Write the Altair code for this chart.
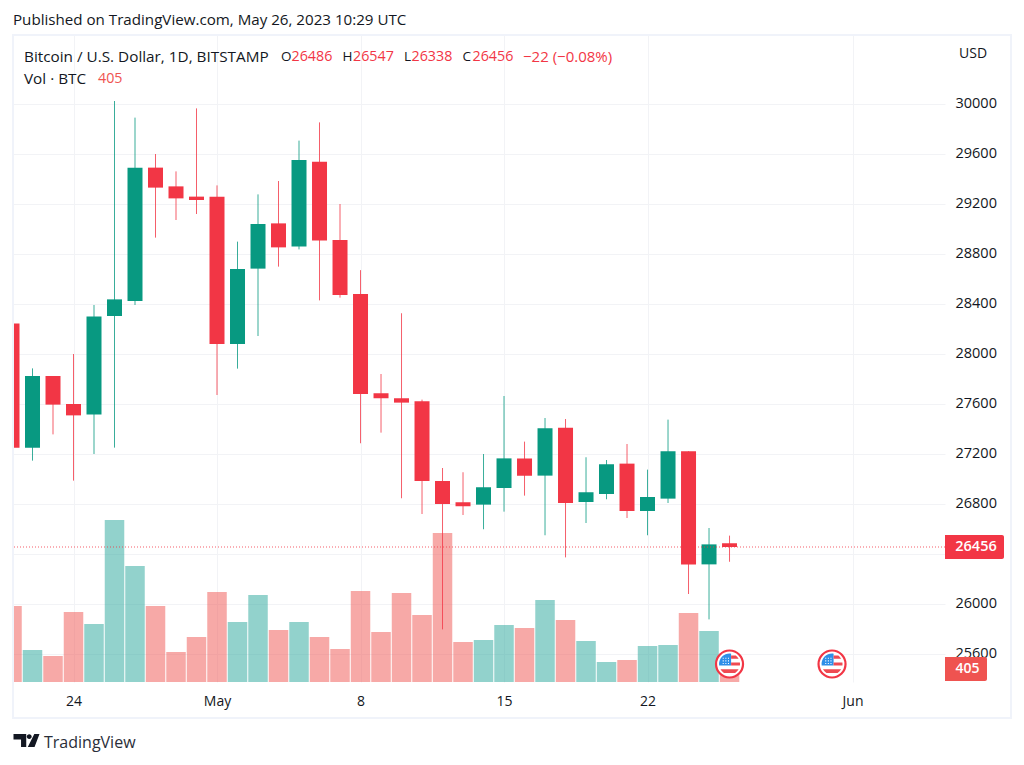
import altair as alt
import pandas as pd

dates = pd.date_range("2023-04-21", "2023-05-26", freq="D").strftime("%Y-%m-%d").tolist()
opens = [28245, 27251, 27824, 27600, 27517, 28304, 28424, 29491, 29341, 29259, 29259, 28080,
         28683, 29045, 28861, 29539, 28912, 28480, 27686, 27646, 27622, 26984, 26814, 26795,
         26928, 27165, 27027, 27411, 26816, 26880, 27123, 26744, 26843, 27222, 26317, 26486]
closes = [27251, 27824, 27595, 27509, 28301, 28437, 29491, 29331, 29245, 29232, 28080, 28680,
          29040, 28853, 29552, 28909, 28472, 27680, 27646, 27611, 26984, 26800, 26782, 26934,
          27165, 27027, 27406, 26808, 26894, 27118, 26744, 26856, 27222, 26317, 26477, 26456]
highs = [28380, 27885, 27824, 28000, 28392, 30024, 29891, 29600, 29461, 29965, 29349, 28899,
         29277, 29384, 29707, 29853, 29200, 28671, 27840, 28326, 27635, 27088, 27054, 27200,
         27664, 27299, 27488, 27480, 27174, 27152, 27280, 27075, 27475, 27222, 26608, 26547]
lows = [27100, 27147, 27357, 26987, 27200, 27251, 28392, 28931, 29072, 29120, 27672, 27883,
        28144, 28699, 28837, 28429, 28451, 27286, 27371, 26846, 26720, 25797, 26712, 26598,
        26739, 26867, 26550, 26373, 26648, 26838, 26688, 26550, 26808, 26080, 25877, 26338]
volumes = [3800, 1600, 1300, 3500, 2900, 8100, 5800, 3800, 1500, 2250, 4500, 3000,
           4350, 2600, 3000, 2250, 1650, 4550, 2500, 4450, 3350, 7450, 2000, 2100,
           2850, 2700, 4100, 3100, 2050, 1000, 1100, 1800, 1850, 3450, 2550, 405]
tick_dates = ["2023-04-24", "2023-05-01", "2023-05-08", "2023-05-15", "2023-05-22", "2023-06-01"]
tick_labels = ["24", "May", "8", "15", "22", "Jun"]
price_ticks = [25600, 26000, 26400, 26800, 27200, 27600, 28000, 28400, 28800, 29200, 29600, 30000]
event_dates = ["2023-05-26", "2023-05-31"]
last_price = 26456

GREEN, RED, VRED, VGREEN = "#089981", "#f23645", "#ef5350", "#26a69a"
INK = "#131722"
GRID = "#f2f3f6"
FONT = "Open Sans"

W, H = 932, 647
df = pd.DataFrame(dict(date=dates, o=opens, c=closes, h=highs, l=lows, v=volumes))
df["dir"] = ["up" if c >= o else "down" for o, c in zip(opens, closes)]
df["top"] = df[["o", "c"]].max(axis=1)
df["bot"] = df[["o", "c"]].min(axis=1)

ms = lambda s: int(pd.Timestamp(s, tz="UTC").value / 1_000_000)
x_scale = alt.Scale(type="utc", nice=False, padding=0, domain=[ms("2023-04-21 01:10"), ms("2023-06-05 12:15")])
tick_ms = [ms(t) for t in tick_dates]
label_map = "{" + ",".join(f"'{m}':'{l}'" for m, l in zip(tick_ms, tick_labels)) + "}"
x_axis = alt.Axis(values=tick_ms, labelExpr=f"{label_map}[''+(+datum.value)]", title=None, domain=False,
                  ticks=False, grid=True, gridColor=GRID, gridWidth=1, labelFont=FONT, labelFontSize=14,
                  labelColor=INK, labelPadding=12, labelFlush=False, labelOverlap=False,
                  labelFontWeight=alt.condition("datum.value == %d || datum.value == %d" % (tick_ms[1], tick_ms[5]),
                                                alt.value(600), alt.value(400)))
X = alt.X("date:T", scale=x_scale, axis=x_axis)
price_scale = alt.Scale(domain=[25376, 30552], nice=False, zero=False)
vol_scale = alt.Scale(domain=[0, 32350], nice=False, zero=False)
dir_color = alt.Color("dir:N", scale=alt.Scale(domain=["up", "down"], range=[GREEN, RED]), legend=None)
vol_color = alt.Color("dir:N", scale=alt.Scale(domain=["up", "down"], range=[VGREEN, VRED]), legend=None)

base = alt.Chart(df)
one = alt.Chart(alt.Data(values=[{"a": 1}]))

axes_layer = base.mark_bar(opacity=0).encode(
    x=X,
    y=alt.Y("top:Q", scale=price_scale, title=None,
            axis=alt.Axis(orient="right", values=price_ticks, title=None, domain=False, ticks=False, grid=True,
                          gridColor=GRID, gridWidth=1, labelFont=FONT, labelFontSize=14.5, labelColor=INK,
                          labelPadding=10, format="d", labelFlush=False, labelOverlap=False, labelOffset=-0.5)),
    y2="bot:Q",
)
vol_bars = base.mark_bar(size=19.5, opacity=0.5, clip=True).encode(
    x=X, y=alt.Y("v:Q", scale=vol_scale, axis=None), color=vol_color)
wicks = base.mark_rule(strokeWidth=1, opacity=0.8, clip=True).encode(
    x=X, y=alt.Y("l:Q", scale=price_scale, axis=None), y2="h:Q", color=dir_color)
bodies = base.mark_bar(size=15, clip=True).encode(
    x=X, y=alt.Y("top:Q", scale=price_scale, axis=None), y2="bot:Q", color=dir_color)
price_line = alt.Chart(pd.DataFrame({"p": [last_price]})).mark_rule(
    color=RED, strokeWidth=1, strokeDash=[1, 2], opacity=0.8).encode(
    y=alt.Y("p:Q", scale=price_scale, axis=None))


def label(text, x, y, color=INK, size=14, align="left", weight=400):
    return one.mark_text(text=text, font=FONT, fontSize=size, color=color, align=align,
                         baseline="middle", fontWeight=weight).encode(x=alt.value(x), y=alt.value(y))


def box(x, x2, y, y2, **kw):
    return one.mark_rect(**kw).encode(x=alt.value(x), x2=alt.value(x2), y=alt.value(y), y2=alt.value(y2))


frame = box(0, 998, 0, 683, fill="transparent", stroke="#f0f3fa", strokeWidth=2)
tag_price = box(932, 991, 500, 524, fill=RED, cornerRadiusTopRight=2, cornerRadiusBottomRight=2)
tag_vol = box(932, 974, 622, 646, fill=VRED, cornerRadiusTopRight=2, cornerRadiusBottomRight=2)

CIRCLE = "M -1 0 A 1 1 0 1 1 1 0 A 1 1 0 1 1 -1 0 Z"
CANTON = "M -0.988 0.15 L 0.15 0.15 L 0.15 -0.988 A 1 1 0 0 0 -0.988 0.15 Z"
STRIPES = ("M 0.15 -0.15 L 0.988 -0.15 A 1 1 0 0 1 0.988 0.15 L 0.15 0.15 Z "
           "M -0.866 0.5 L 0.866 0.5 A 1 1 0 0 1 0.527 0.85 L -0.527 0.85 A 1 1 0 0 1 -0.866 0.5 Z "
           "M 0.15 -0.8 L 0.6 -0.8 A 1 1 0 0 1 0.866 -0.5 L 0.15 -0.5 Z")
STARS = " ".join(f"M {a} {b} h 0.1 v 0.1 h -0.1 Z" for a in (-0.65, -0.4, -0.15) for b in (-0.6, -0.35, -0.1))
events = alt.Chart(pd.DataFrame({"date": event_dates}))
FLAG_Y = 629


def flag(shape, size, fill, stroke=None, sw=0):
    return events.mark_point(shape=shape, size=size, filled=True, fill=fill, stroke=stroke, strokeWidth=sw,
                             opacity=1).encode(x=X, y=alt.value(FLAG_Y))


flags = [flag(CIRCLE, 729, "#ffffff", "#f23645", 2.2), flag(CANTON, 441, "#2e8fe8"),
         flag(STRIPES, 441, "#ef4a52"), flag(STARS, 441, "#ffffff")]

LOGO = ("M -1 -0.5 L -0.02 -0.5 L -0.02 0.5 L -0.42 0.5 L -0.42 -0.08 L -1 -0.08 Z "
        "M 0.02 -0.3 A 0.19 0.19 0 1 1 0.4 -0.3 A 0.19 0.19 0 1 1 0.02 -0.3 Z "
        "M 0.6 -0.5 L 1 -0.5 L 0.62 0.5 L 0.1 0.5 Z")
logo = one.mark_point(shape=LOGO, size=676, filled=True, fill=INK, opacity=1).encode(
    x=alt.value(13.5), y=alt.value(705.5))

T, D, O = 15.3, 14.3, 13.5
texts = [
    label("Published on TradingView.com, May 26, 2023 10:29 UTC", 0, -15, size=15.15),
    label("Bitcoin / U.S. Dollar, 1D, BITSTAMP", 11, 21.5, size=T),
    label("O", 268, 21.5, size=O), label("26486", 278.5, 21.5, RED, D),
    label("H", 329.5, 21.5, size=O), label("26547", 340, 21.5, RED, D),
    label("L", 391, 21.5, size=O), label("26338", 398.5, 21.5, RED, D),
    label("C", 449.5, 21.5, size=O), label("26456", 459.5, 21.5, RED, D),
    label("−22 (−0.08%)", 510, 21.5, RED, 15),
    label("Vol · BTC", 11, 44, size=T), label("405", 85, 44, VRED, D),
    label("USD", 946, 18.5),
    label("26456", 963, 512, "#ffffff", 14.5, "center", 600),
    label("405", 954.5, 634, "#ffffff", 14, "center", 600),
    label("TradingView", 31, 708, "#2a2e39", 16),
]

chart = alt.layer(
    axes_layer, vol_bars, wicks, bodies, price_line, frame, tag_price, tag_vol, *flags, logo, *texts
).resolve_scale(y="independent", color="independent").properties(
    width=W, height=H, autosize=alt.AutoSizeParams(type="none"), background="#ffffff",
    padding={"left": 5, "top": 27, "right": 71, "bottom": 70},
).configure_view(stroke=None)

chart.save("out.html", embed_options={"renderer": "svg", "actions": False})
